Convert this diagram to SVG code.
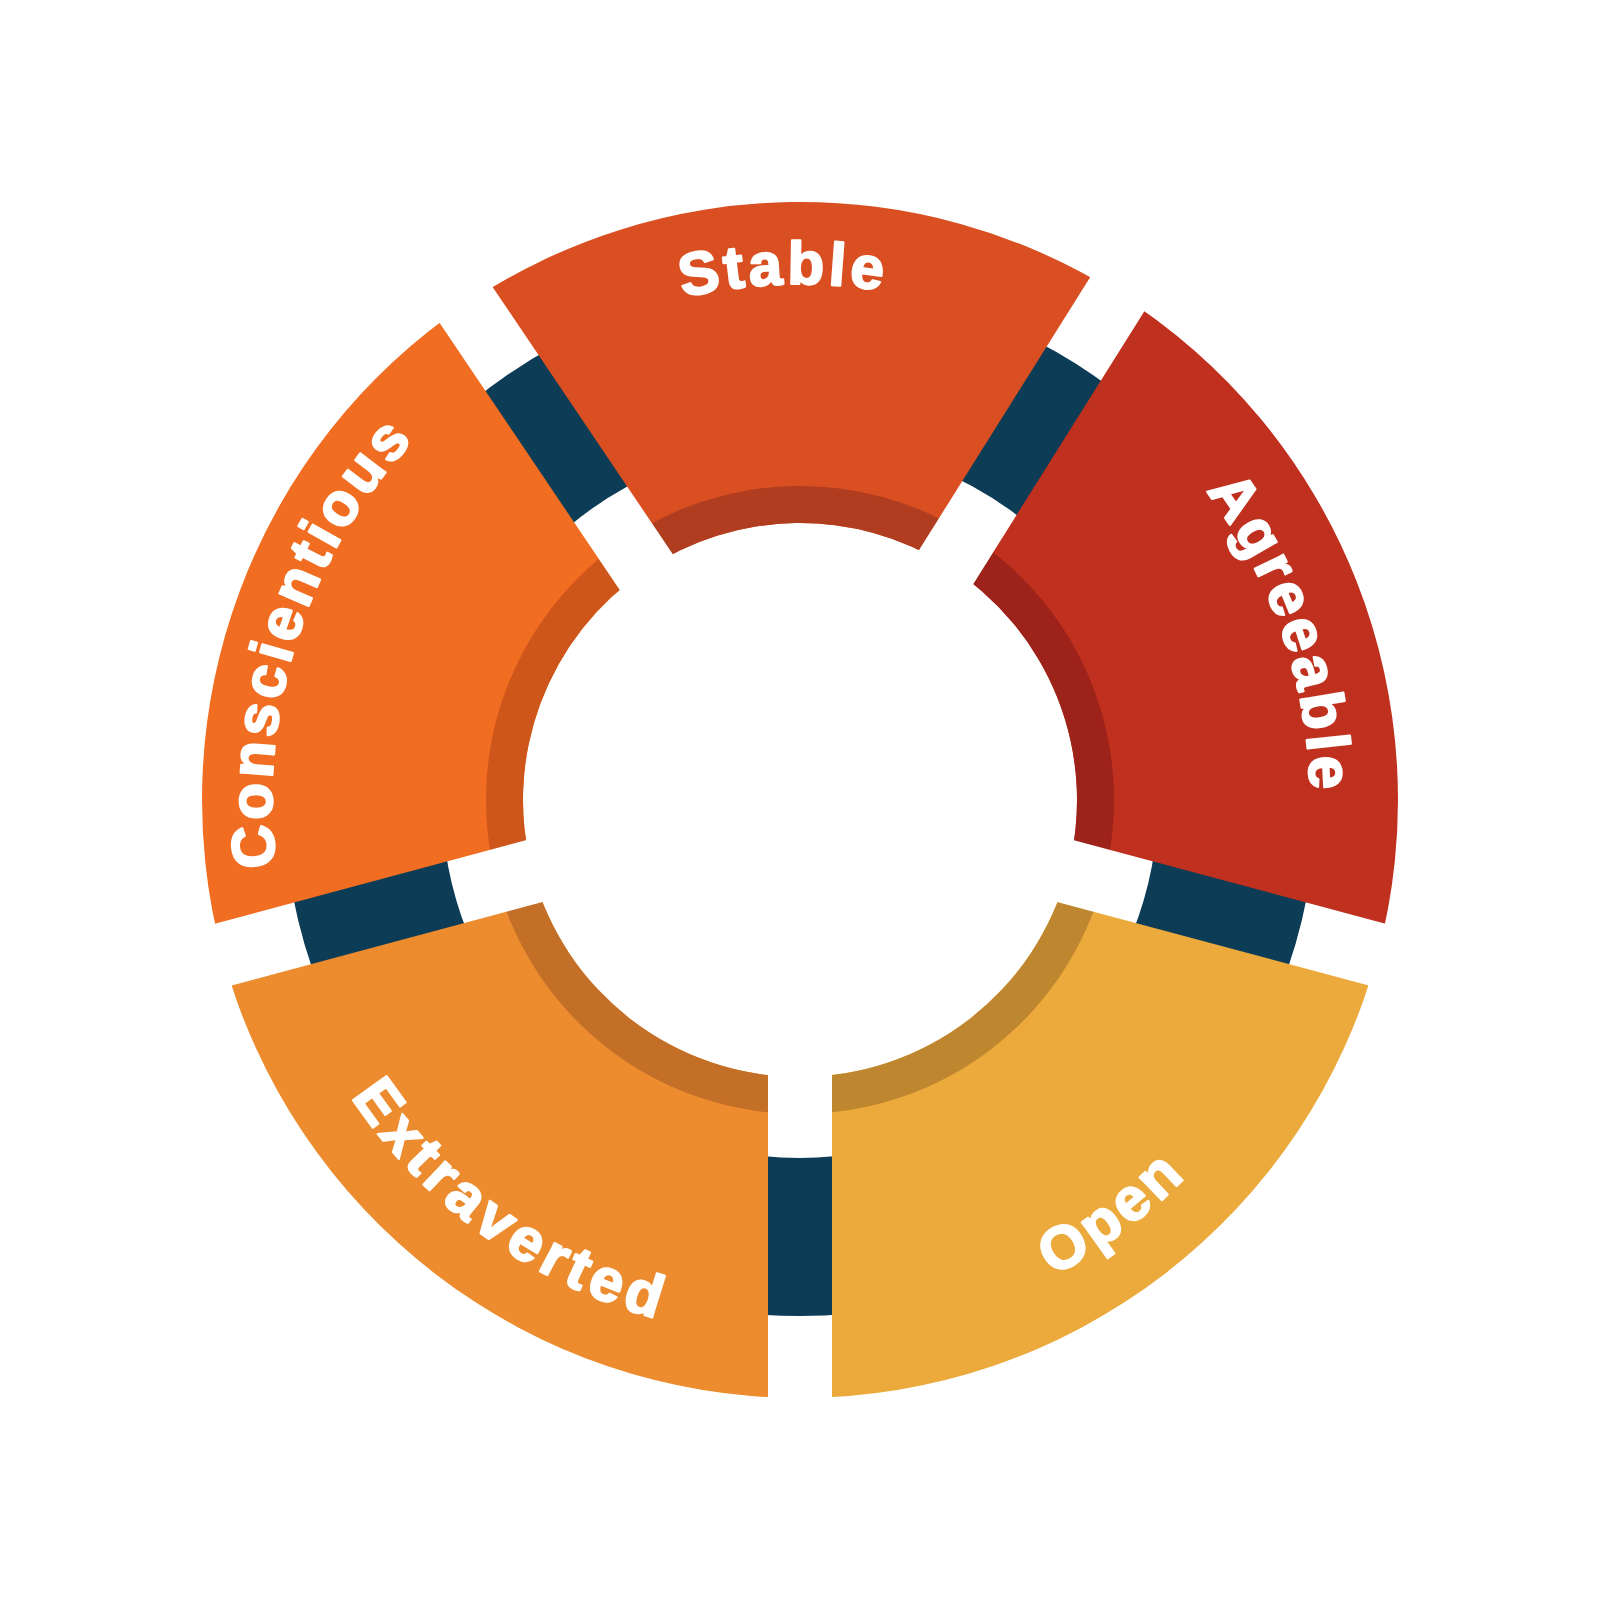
<svg xmlns="http://www.w3.org/2000/svg" xmlns:xlink="http://www.w3.org/1999/xlink" width="1600" height="1600" viewBox="0 0 1600 1600">
  <style>
    .label { font-family: "Liberation Sans", Arial, sans-serif; font-weight: 700; font-size: 60px; fill: #ffffff; stroke: #ffffff; stroke-width: 2.2; stroke-linejoin: round; letter-spacing: 4px; }
  </style>
  <defs>
    <!-- constant-width gaps cut between the five segments -->
    <mask id="gaps" maskUnits="userSpaceOnUse" x="0" y="0" width="1600" height="1600">
      <rect x="0" y="0" width="1600" height="1600" fill="#fff"/>
      <g fill="#000">
        <rect x="0" y="-32" width="720" height="64" transform="translate(800,800) rotate(90)"/>
        <rect x="0" y="-32" width="720" height="64" transform="translate(800,800) rotate(15)"/>
        <rect x="0" y="-32" width="720" height="64" transform="translate(800,800) rotate(-57.9)"/>
        <rect x="0" y="-32" width="720" height="64" transform="translate(800,800) rotate(-124)"/>
        <rect x="0" y="-32" width="720" height="64" transform="translate(800,800) rotate(165)"/>
      </g>
    </mask>
    <!-- baselines for the curved labels -->
    <path id="arc-stable" d="M345.3,556.1 A516,516 0 0 1 1238.5,528.1"/>
    <path id="arc-consc" d="M407.6,1153.3 A528,528 0 0 1 690.2,283.6"/>
    <path id="arc-agree" d="M897.4,299.3 A510,510 0 0 1 1184.9,1134.6"/>
    <path id="arc-extra" d="M264.5,748.4 A538,538 0 0 0 1023.2,1289.6"/>
    <path id="arc-open" d="M589.4,1296.2 A539,539 0 0 0 1335,734.3"/>
  </defs>

  <rect width="1600" height="1600" fill="#ffffff"/>

  <!-- navy ring behind the segments, visible through the gaps -->
  <g id="ring">
    <circle cx="800" cy="800" r="437" fill="none" stroke="#0C3C56" stroke-width="158"/>
  </g>

  <g id="segments" mask="url(#gaps)">
    <g id="stable">
      <path d="M465.6,304.3 A598,598 0 0 1 1117.8,293.4 L947.2,565.4 A277,277 0 0 0 645.1,570.4 Z" fill="#D94F21"/>
      <path d="M624.4,539.7 A314,314 0 0 1 966.9,534.0 L947.2,565.4 A277,277 0 0 0 645.1,570.4 Z" fill="#B03D1F"/>
    </g>
    <g id="agreeable">
      <path d="M1117.8,293.4 A598,598 0 0 1 1377.6,954.8 L1067.6,871.7 A277,277 0 0 0 947.2,565.4 Z" fill="#C0301E"/>
      <path d="M966.9,534.0 A314,314 0 0 1 1103.3,881.3 L1067.6,871.7 A277,277 0 0 0 947.2,565.4 Z" fill="#9D221A"/>
    </g>
    <g id="open">
      <path d="M1377.6,954.8 A598,598 0 0 1 800,1398 L800,1077 A277,277 0 0 0 1067.6,871.7 Z" fill="#EBAA3B"/>
      <path d="M1103.3,881.3 A314,314 0 0 1 800,1114 L800,1077 A277,277 0 0 0 1067.6,871.7 Z" fill="#BE872F"/>
    </g>
    <g id="extraverted">
      <path d="M800,1398 A598,598 0 0 1 222.4,954.8 L532.4,871.7 A277,277 0 0 0 800,1077 Z" fill="#EC8C2F"/>
      <path d="M800,1114 A314,314 0 0 1 496.7,881.3 L532.4,871.7 A277,277 0 0 0 800,1077 Z" fill="#C36F28"/>
    </g>
    <g id="conscientious">
      <path d="M222.4,954.8 A598,598 0 0 1 465.6,304.3 L645.1,570.4 A277,277 0 0 0 532.4,871.7 Z" fill="#F06D21"/>
      <path d="M496.7,881.3 A314,314 0 0 1 624.4,539.7 L645.1,570.4 A277,277 0 0 0 532.4,871.7 Z" fill="#CF561A"/>
    </g>
  </g>

  <g id="labels">
    <text class="label" text-anchor="middle"><textPath xlink:href="#arc-stable" href="#arc-stable" startOffset="50%">Stable</textPath></text>
    <text class="label" text-anchor="middle"><textPath xlink:href="#arc-consc" href="#arc-consc" startOffset="50%">Conscientious</textPath></text>
    <text class="label" text-anchor="middle"><textPath xlink:href="#arc-agree" href="#arc-agree" startOffset="50%">Agreeable</textPath></text>
    <text class="label" text-anchor="middle" style="letter-spacing:5.5px"><textPath xlink:href="#arc-extra" href="#arc-extra" startOffset="49.8%">Extraverted</textPath></text>
    <text class="label" text-anchor="middle"><textPath xlink:href="#arc-open" href="#arc-open" startOffset="50%">Open</textPath></text>
  </g>
</svg>
